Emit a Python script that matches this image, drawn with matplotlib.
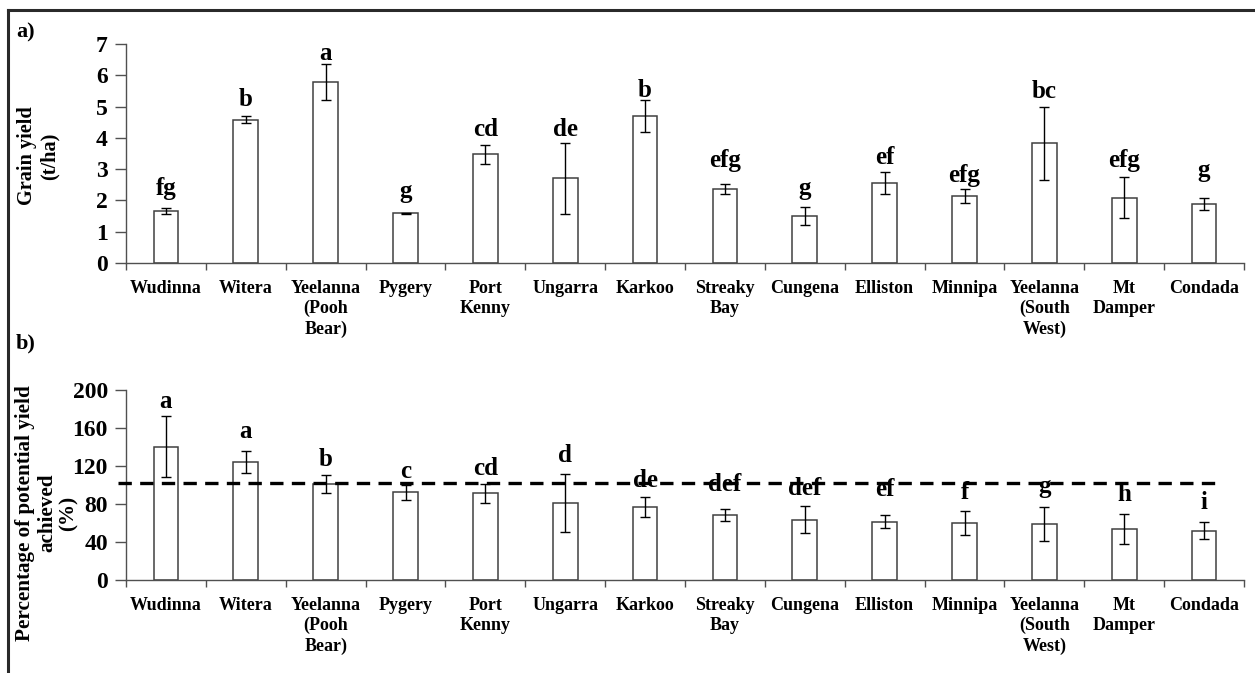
import matplotlib
matplotlib.use("Agg")
import matplotlib.pyplot as plt
from matplotlib.lines import Line2D
import numpy as np

# ---------------- data ----------------
sites = ["Wudinna", "Witera", "Yeelanna\n(Pooh\nBear)", "Pygery", "Port\nKenny",
         "Ungarra", "Karkoo", "Streaky\nBay", "Cungena", "Elliston", "Minnipa",
         "Yeelanna\n(South\nWest)", "Mt\nDamper", "Condada"]

yield_mean = [1.67, 4.58, 5.78, 1.59, 3.47, 2.71, 4.70, 2.36, 1.51, 2.56, 2.15, 3.82, 2.09, 1.89]
yield_err = [0.10, 0.12, 0.58, 0.02, 0.30, 1.14, 0.51, 0.17, 0.29, 0.35, 0.22, 1.17, 0.65, 0.20]
yield_letters = ["fg", "b", "a", "g", "cd", "de", "b", "efg", "g", "ef", "efg", "bc", "efg", "g"]

pct_mean = [140.4, 123.9, 100.7, 92.3, 91.2, 81.0, 76.8, 68.4, 63.5, 61.4, 60.3, 59.3, 54.0, 51.9]
pct_err = [32.0, 11.5, 9.5, 8.0, 10.0, 30.7, 10.4, 6.7, 14.0, 7.0, 12.6, 17.9, 15.8, 9.2]
pct_letters = ["a", "a", "b", "c", "cd", "d", "de", "def", "def", "ef", "f", "g", "h", "i"]
pct_reference = 102

yield_title_lines = ["Grain yield", "(t/ha)"]
pct_title_lines = ["Percentage of potential yield", "achieved", "(%)"]

# layout: baseline heights of the letter annotations (data units)
yield_letter_y = [2.17, 5.02, 6.49, 2.07, 4.06, 4.06, 5.29, 3.08, 2.17, 3.16, 2.60, 5.26, 3.08, 2.76]
pct_letter_y = [180.7, 149.8, 120.3, 107, 111, 124.6, 97.6, 94, 89.5, 88.4, 85.3, 91.2, 83.5, 74.7]

# ---------------- style ----------------
FONT = "Liberation Serif"
plt.rcParams["font.family"] = [FONT, "DejaVu Serif"]
plt.rcParams["font.weight"] = "bold"

fig = plt.figure(figsize=(12.55, 6.73), dpi=100)

W, H = 1255, 673
def axrect(left, right, top, bottom):
    return [left / W, 1 - bottom / H, (right - left) / W, (bottom - top) / H]

ax1 = fig.add_axes(axrect(126, 1244, 44, 263))
ax2 = fig.add_axes(axrect(126, 1244, 390, 580))

x = np.arange(len(sites))
spine_col = "#505050"
bar_edge = "#404040"


def style_axis(ax, ymax, yticks):
    ax.set_xlim(-0.5, len(sites) - 0.5)
    ax.set_ylim(0, ymax)
    ax.set_yticks(yticks)
    ax.set_yticklabels([str(t) for t in yticks], fontsize=17, fontweight="bold", family=FONT)
    ax.set_xticks(x)
    ax.set_xticklabels(sites, fontsize=13, fontweight="bold", family=FONT,
                       linespacing=1.25, va="top")
    ax.set_xticks(np.arange(-0.5, len(sites), 1.0), minor=True)
    ax.tick_params(axis="x", which="major", length=0, pad=12)
    ax.tick_params(axis="x", which="minor", length=5, width=1, color=spine_col, direction="out")
    ax.tick_params(axis="y", length=8, width=1, color=spine_col, direction="out", pad=5)
    for s in ["top", "right"]:
        ax.spines[s].set_visible(False)
    for s in ["left", "bottom"]:
        ax.spines[s].set_color(spine_col)
        ax.spines[s].set_linewidth(1)
    ax.patch.set_alpha(0)


# ---- panel a ----
ax1.bar(x, yield_mean, width=0.31, color="white", edgecolor=bar_edge, linewidth=1.1, zorder=2)
ax1.errorbar(x, yield_mean, yerr=yield_err, fmt="none", ecolor="black",
             elinewidth=1, capsize=3.5, capthick=1, zorder=3)
for xi, lab, ly in zip(x, yield_letters, yield_letter_y):
    ax1.text(xi, ly, lab, ha="center", va="baseline", fontsize=18, fontweight="bold", family=FONT)
style_axis(ax1, 7, list(range(0, 8)))

# ---- panel b ----
ax2.bar(x, pct_mean, width=0.31, color="white", edgecolor=bar_edge, linewidth=1.1, zorder=2)
ax2.errorbar(x, pct_mean, yerr=pct_err, fmt="none", ecolor="black",
             elinewidth=1, capsize=3.5, capthick=1, zorder=3)
ax2.axhline(pct_reference, xmin=-0.007, xmax=0.977, color="black", lw=2.4,
            linestyle=(0, (4.0, 2.5)), zorder=4, clip_on=False)
for xi, lab, ly in zip(x, pct_letters, pct_letter_y):
    ax2.text(xi, ly, lab, ha="center", va="baseline", fontsize=18, fontweight="bold", family=FONT)
style_axis(ax2, 200, list(range(0, 201, 40)))

# y-axis titles, one rotated line each
for line, xc in zip(yield_title_lines, [27, 50]):
    fig.text(xc / W, 1 - 156 / H, line, rotation=90, ha="center", va="center",
             fontsize=14.6, fontweight="bold", family=FONT)
for line, xc in zip(pct_title_lines, [25, 47.5, 68.5]):
    fig.text(xc / W, 1 - 513 / H, line, rotation=90, ha="center", va="center",
             fontsize=15.2, fontweight="bold", family=FONT)

# panel labels
fig.text(16 / W, 1 - 32 / H, "a)", fontsize=16, fontweight="bold", family=FONT, va="center")
fig.text(16 / W, 1 - 343 / H, "b)", fontsize=16, fontweight="bold", family=FONT, va="center")

# outer frame (top and left only)
fig.add_artist(Line2D([8 / W, 1.0], [1 - 10 / H, 1 - 10 / H], transform=fig.transFigure,
                      color="#2a2a2a", lw=2.2))
fig.add_artist(Line2D([8 / W, 8 / W], [1 - 10 / H, 0.0], transform=fig.transFigure,
                      color="#2a2a2a", lw=2.2))

fig.savefig("out.png", dpi=100)
